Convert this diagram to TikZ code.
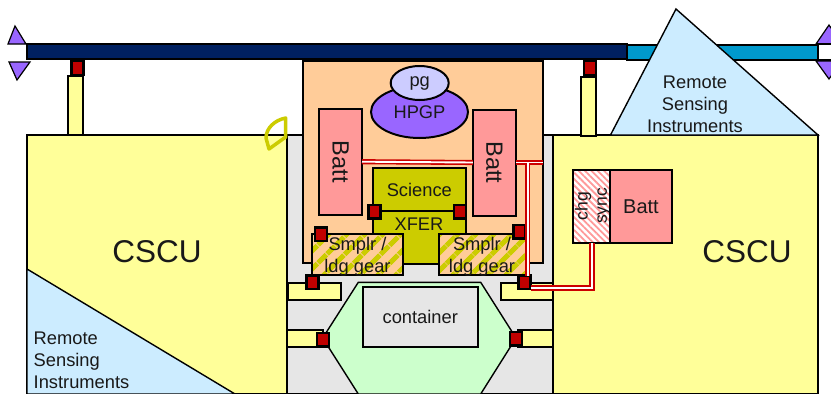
\documentclass[tikz,border=0pt]{standalone}
\usepackage{fontspec}
\setmainfont{Liberation Sans}
\usetikzlibrary{patterns.meta,shapes.geometric}

\definecolor{boomnavy}{HTML}{002060}
\definecolor{boomblue}{HTML}{0099CC}
\definecolor{cscuyellow}{HTML}{FFFF99}
\definecolor{skyblue}{HTML}{CCECFF}
\definecolor{bodypeach}{HTML}{FFCC99}
\definecolor{battpink}{HTML}{FF9999}
\definecolor{hpgpviolet}{HTML}{9966FF}
\definecolor{pglilac}{HTML}{CCCCFF}
\definecolor{xferolive}{HTML}{CCCC00}
\definecolor{latchred}{HTML}{C00000}
\definecolor{cavitygray}{HTML}{E6E6E6}
\definecolor{hexgreen}{HTML}{CCFFCC}
\definecolor{wirered}{HTML}{CC0000}

\tikzset{
box/.style={draw=black, line width=2pt, inner sep=0pt, outer sep=0pt, align=center, text=black!90},
txt/.style={text=black!90, inner sep=0pt, align=center, font=\fontsize{18.3}{22}\selectfont},
latch/.style={box, fill=latchred, line width=2.5pt, minimum width=12pt, minimum height=13.5pt},
tab/.style={box, fill=cscuyellow},
batt/.style={box, fill=battpink, font=\fontsize{23.5}{23.5}\selectfont},
smplr/.style={box, minimum height=41pt,
  preaction={fill=bodypeach},
  pattern={Lines[angle=45,distance=13pt,line width=5.5pt]}, pattern color=xferolive},
wire/.style={draw=wirered, line width=1.6pt, double=white, double distance=1.9pt},
wedge/.style={draw=black, line width=1.4pt, fill=skyblue},
tip/.style={draw=black, line width=1.2pt, fill=hpgpviolet}
}

\begin{document}
\begin{tikzpicture}[x=1pt,y=-1pt]
\useasboundingbox (0,0) rectangle (831,394);

\fill[white] (0,0) rectangle (831,394);

\draw[tip] (8,44) -- (15,26) -- (26,44) -- cycle;
\draw[tip] (9,62) -- (30,62) -- (17,80) -- cycle;
\draw[tip] (816,44) -- (829,25) -- (842,44) -- cycle;
\draw[tip] (816,61) -- (842,61) -- (829,79) -- cycle;

\node[box, fill=white, minimum width=40pt, minimum height=16pt] (boomend) at (838,52) {};
\node[box, fill=boomblue, minimum width=191pt, minimum height=15pt] (boomR) at (722.5,52.5) {};
\node[box, fill=boomnavy, minimum width=600pt, minimum height=15pt] (boomL) at (327,51.5) {};

\node[box, fill=cavitygray, minimum width=267pt, minimum height=259pt] (cavity) at (420,264.5) {};
\node[box, fill=cscuyellow, minimum width=260pt, minimum height=259pt] (cscuL) at (157,264.5) {};
\node[txt, font=\fontsize{31.5}{31.5}\selectfont] (cscuLtxt) at (157,252) {CSCU};
\draw[wedge] (27,269) -- (235,394) -- (27,394) -- cycle;
\node[txt, align=left] (remoteL) at (81.5,360) {Remote\\Sensing\\Instruments};

\node[box, fill=cscuyellow, minimum width=265pt, minimum height=259pt] (cscuR) at (685.5,264.5) {};
\node[txt, font=\fontsize{31.5}{31.5}\selectfont] (cscuRtxt) at (747,252) {CSCU};

\draw[xferolive, line width=3.5pt, line join=round] (285.7,118) .. controls (275,120) and (266,128) .. (266,138) -- (269,149) -- (285.7,137) -- cycle;

\node[tab, minimum width=15pt, minimum height=59pt] (stemL) at (75.5,105) {};
\node[latch, minimum height=14.5pt] (hingeL) at (77.5,67.5) {};
\node[tab, minimum width=15pt, minimum height=59pt] (stemR) at (588,106) {};
\node[latch, minimum height=14.5pt] (hingeR) at (590,68) {};

\draw[wedge] (610.5,135) -- (676,9) -- (818,135) -- cycle;
\node[txt] (remoteR) at (695,104) {Remote\\Sensing\\Instruments};

\node[box, fill=bodypeach, minimum width=240pt, minimum height=202pt] (body) at (422.5,161.5) {};

\node[box, fill=hpgpviolet, ellipse, minimum width=97pt, minimum height=52pt, font=\fontsize{18.3}{18.3}\selectfont] (hpgp) at (419.5,112) {HPGP};
\node[box, fill=pglilac, ellipse, minimum width=58pt, minimum height=34pt, font=\fontsize{18.3}{18.3}\selectfont] (pg) at (419.7,83) {pg};

\node[batt, rotate=-90, minimum width=106pt, minimum height=43pt] (battL) at (340.5,161.7) {Batt};
\node[batt, rotate=-90, minimum width=106pt, minimum height=43pt] (battR) at (494.3,162.5) {Batt};

\draw[wire] (battL.north) -- (battR.south);
\coordinate (wirecorner) at (542.7,162.5);
\draw[wire] (battR.north) -- (wirecorner);

\node[box, fill=xferolive, minimum width=92.5pt, minimum height=43pt, font=\fontsize{18.3}{18.3}\selectfont] (science) at (419.3,189.7) {Science};
\node[box, fill=xferolive, minimum width=92.5pt, minimum height=53pt, anchor=north] (xfer) at (science.south) {};
\node[txt] (xfertxt) at (419,224) {XFER};

\node[latch] (xferL) at (374.5,211.5) {};
\node[latch] (xferR) at (460,211.5) {};

\node[smplr, minimum width=91pt] (smplrL) at (357.5,254.5) {};
\node[smplr, minimum width=87pt] (smplrR) at (482,254) {};
\node[txt] (smplrLtxt) at (357.5,256.5) {Smplr /\\ldg gear};
\node[txt] (smplrRtxt) at (482,256.5) {Smplr /\\ldg gear};

\node[latch] (armL) at (321,234) {};
\node[latch] (armR) at (519.5,231.5) {};

\node[tab, minimum width=53pt, minimum height=17pt] (tabUL) at (314,291.7) {};
\node[tab, minimum width=52pt, minimum height=17pt] (tabUR) at (527,291.7) {};
\node[tab, minimum width=36pt, minimum height=17pt] (tabLL) at (305,338) {};
\node[tab, minimum width=35pt, minimum height=17pt] (tabLR) at (535.5,338) {};

\draw[draw=black, line width=1.4pt, fill=hexgreen] (358.3,282.3) -- (480.7,282.3) -- (516,338) -- (480.7,394) -- (358.3,394) -- (322.7,338) -- cycle;
\node[box, fill=cavitygray, minimum width=115pt, minimum height=60pt, font=\fontsize{18.3}{18.3}\selectfont] (container) at (420.3,317) {container};

\node[latch] (tabULp) at (312.7,282.3) {};
\node[latch] (tabURp) at (524.7,282.3) {};
\node[latch] (tabLLp) at (322.8,339.5) {};
\node[latch] (tabLRp) at (516.2,338.5) {};

\node[box, minimum width=37pt, minimum height=73pt, preaction={fill=white}, pattern={Lines[angle=-45,distance=4.5pt,line width=1.8pt]}, pattern color=battpink] (chg) at (591.5,206.7) {};
\node[txt, rotate=90, font=\fontsize{17.5}{17.5}\selectfont] (chgtxt) at (583,206) {chg};
\node[txt, rotate=90, font=\fontsize{17.5}{17.5}\selectfont] (synctxt) at (604,206) {sync};
\node[box, fill=battpink, minimum width=62pt, minimum height=73pt, font=\fontsize{20}{20}\selectfont] (battC) at (641,206.7) {Batt};

\coordinate (wiretop) at (527.7,162.5);
\coordinate (wirebend) at (592,288);
\draw[wire] (wiretop) -- (tabURp.north -| wiretop);
\draw[wire] (tabURp.east |- wirebend) -- (wirebend) -- (wirebend |- chg.south);

\end{tikzpicture}
\end{document}
